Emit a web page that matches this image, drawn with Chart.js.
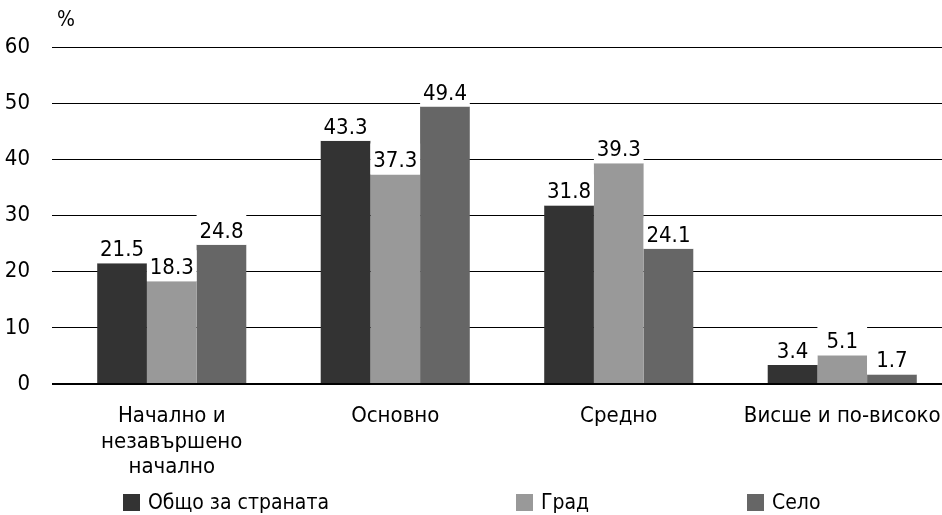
<!DOCTYPE html>
<html lang="bg">
  <head>
    <meta charset="UTF-8" />
    <title>Образование</title>
    <script src="https://cdn.jsdelivr.net/npm/chart.js"></script>
    <style>
      body { margin: 0; overflow: hidden; background: #fff; }
      #wrap { position: relative; width: 960px; height: 515px; }
      #legenda { position: absolute; left: 0; top: 0; width: 960px; height: 515px; pointer-events: none;
        font-family: 'Liberation Sans Narrow', 'DejaVu Sans Condensed', sans-serif; font-size: 21px; color: #000; }
      .item { position: absolute; top: 490px; display: flex; align-items: center; white-space: nowrap; }
      .box { width: 17px; height: 17px; margin-right: 8px; }
    </style>
  </head>
  <body>
    <div id="wrap">
      <canvas id="grafico"></canvas>
      <div id="legenda"></div>
    </div>
    <script>
      const categorias = [["Начално и", "незавършено", "начално"], "Основно", "Средно", "Висше и по-високо"]
      const series = ["Общо за страната", "Град", "Село"]
      const obshto = [21.5, 43.3, 31.8, 3.4]
      const grad = [18.3, 37.3, 39.3, 5.1]
      const selo = [24.8, 49.4, 24.1, 1.7]
      const yMin = 0, yMax = 60, yStep = 10

      const cores = ["#333333", "#999999", "#666666"]
      const fonte = "'Liberation Sans Narrow', 'DejaVu Sans Condensed', sans-serif"
      Chart.defaults.font.family = fonte
      Chart.defaults.font.size = 22
      Chart.defaults.color = "#000"

      // rotulos com fundo branco sobre as barras
      const rotulos = {
        id: "rotulos",
        afterDatasetsDraw(chart) {
          const ctx = chart.ctx
          ctx.save()
          ctx.font = "22px " + fonte
          ctx.textAlign = "center"
          ctx.textBaseline = "alphabetic"
          chart.data.datasets.forEach((ds, i) => {
            chart.getDatasetMeta(i).data.forEach((bar, j) => {
              const w = bar.width
              ctx.fillStyle = "#fff"
              ctx.fillRect(bar.x - w / 2, bar.y - 31, w, 31)
              ctx.fillStyle = "#000"
              ctx.fillText(ds.data[j].toFixed(1), bar.x, bar.y - 7)
            })
          })
          ctx.restore()
        },
        afterDraw(chart) {
          const ctx = chart.ctx
          ctx.save()
          ctx.font = "21px " + fonte
          ctx.fillStyle = "#000"
          ctx.textAlign = "left"
          ctx.textBaseline = "middle"
          ctx.fillText("%", chart.chartArea.left - 3, 21)
          ctx.restore()
        },
      }

      const grafico = new Chart(document.getElementById("grafico"), {
        type: "bar",
        data: {
          labels: categorias,
          datasets: [
            { label: series[0], data: obshto, backgroundColor: cores[0] },
            { label: series[1], data: grad, backgroundColor: cores[1] },
            { label: series[2], data: selo, backgroundColor: cores[2] },
          ],
        },
        options: {
          responsive: true,
          maintainAspectRatio: false,
          animation: false,
          layout: { padding: { top: 47, right: 6, bottom: 0, left: 0 } },
          categoryPercentage: 0.667,
          barPercentage: 1.0,
          plugins: { legend: { display: false }, tooltip: { enabled: false } },
          scales: {
            x: {
              grid: { display: false },
              border: { display: false },
              ticks: { padding: 12, maxRotation: 0, autoSkip: false, font: { size: 22, lineHeight: 1.15 } },
              afterFit: (s) => { s.height = 131 },
            },
            y: {
              min: yMin,
              max: yMax,
              ticks: { stepSize: yStep, padding: 22, font: { size: 22 } },
              border: { display: false },
              grid: {
                color: "#000",
                lineWidth: (c) => (c.tick && c.tick.value === 0 ? 2 : 1),
                drawTicks: true,
                tickLength: 8,
              },
              afterFit: (s) => {
                s.width = 60
                s.paddingTop = 0
                s.paddingBottom = 0
              },
            },
          },
        },
        plugins: [rotulos],
      })

      // legenda em html
      const xs = [123, 516, 747]
      const leg = document.getElementById("legenda")
      grafico.data.datasets.forEach((ds, i) => {
        const d = document.createElement("div")
        d.className = "item"
        d.style.left = xs[i] + "px"
        d.innerHTML = '<span class="box" style="background:' + ds.backgroundColor + '"></span><span>' + ds.label + "</span>"
        leg.appendChild(d)
      })
    </script>
  </body>
</html>
